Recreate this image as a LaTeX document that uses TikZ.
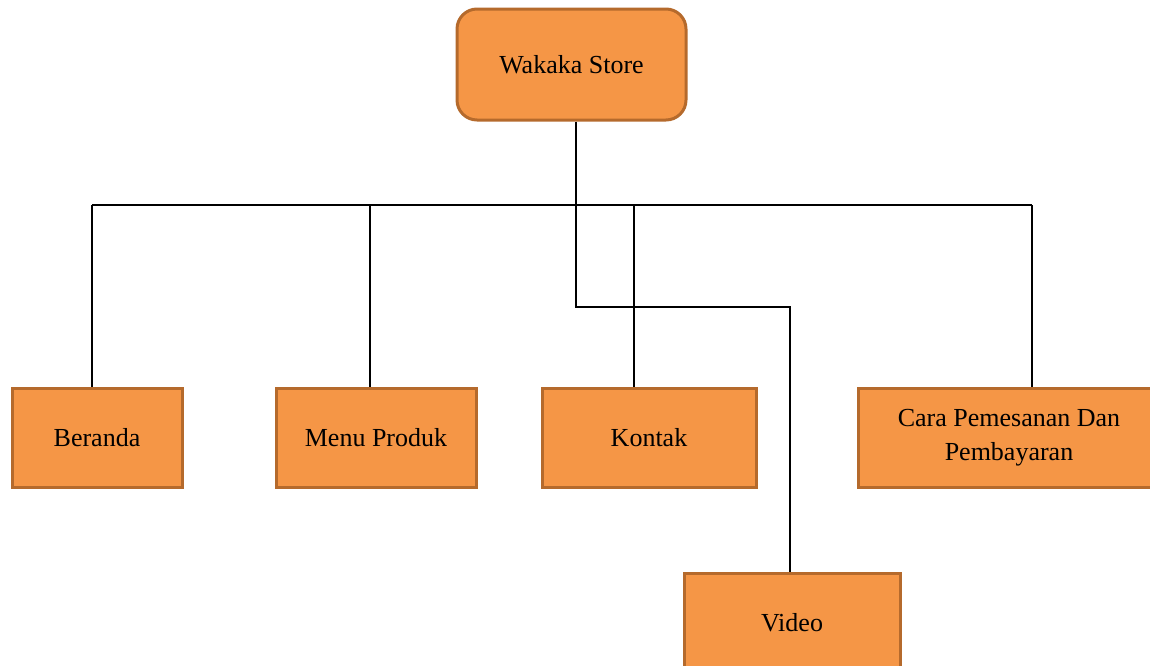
\documentclass[tikz,border=0pt]{standalone}
\usepackage{fontspec}
\setmainfont{Liberation Serif}
\usepackage{tikz}
\usetikzlibrary{calc,positioning}
\definecolor{boxfill}{HTML}{F59646}
\definecolor{boxline}{HTML}{B56A2C}

\begin{document}
\begin{tikzpicture}[x=1pt,y=-1pt,
    menubox/.style={draw=boxline,fill=boxfill,line width=3pt,minimum height=99pt,
      inner sep=0pt,align=center,font=\fontsize{26}{34}\selectfont},
    link/.style={draw=black,line width=1.6pt}]
              \useasboundingbox (0,0) rectangle (1150,665);
              \clip (0,0) rectangle (1150,665);
              \node[menubox,rounded corners=20pt,minimum width=229pt,minimum height=111pt](store)at(571.5,64.5){Wakaka Store};
              \node[menubox,minimum width=170pt](beranda)at(97,437.5){Beranda};
              \node[menubox,minimum width=200pt](produk)at(376,437.5){Menu Produk};
              \node[menubox,minimum width=214pt](kontak)at(649,437.5){Kontak};
              \node[menubox,minimum width=302pt](cara)at(1009,437.5){Cara Pemesanan Dan\\Pembayaran};
              \node[menubox,minimum width=216pt](video)at(792,622.5){Video};
              % bus line
              \coordinate(b1)at(92,205);
              \coordinate(b2)at(370,205);
              \coordinate(b3)at(634,205);
              \coordinate(b4)at(1032,205);
              \coordinate(bend)at(576,307);
              \draw[link](b1)--(b4);
              \draw[link](b1)--(b1 |- beranda.north);
              \draw[link](b2)--(b2 |- produk.north);
              \draw[link](b3)--(b3 |- kontak.north);
              \draw[link](b4)--(b4 |- cara.north);
              % trunk down to video
              \draw[link](bend |- store.south)--(bend)-|([xshift=-2pt]video.north);
            \end{tikzpicture}
\end{document}
